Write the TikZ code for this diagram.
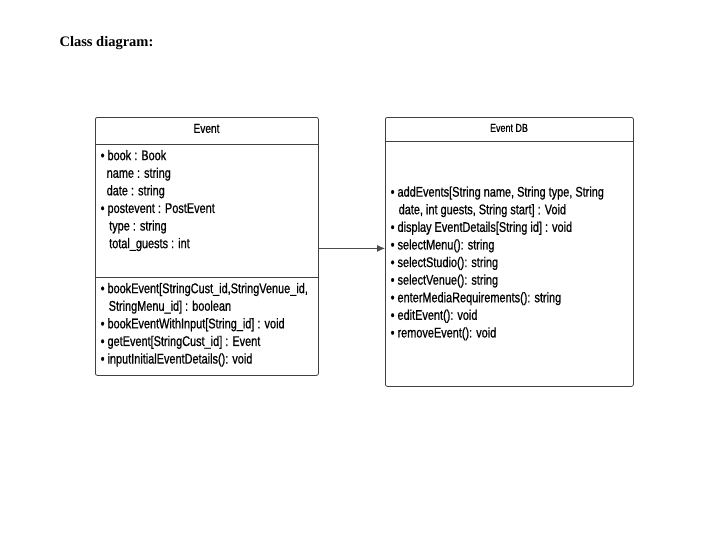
\documentclass[tikz,border=0pt]{standalone}
\usepackage{fontspec}
\setmainfont{Liberation Serif}
\newfontfamily\umlfont{Liberation Sans}[FakeStretch=0.78,FakeBold=0.7]
\usetikzlibrary{arrows.meta,positioning}

\begin{document}
\begin{tikzpicture}[
		x=1pt, y=-1pt,
		classbox/.style={draw=black!75, line width=0.8pt, rounded corners=2pt, anchor=north west, inner sep=0pt},
		classname/.style={font=\umlfont\fontsize{13}{14}\selectfont},
		member/.style={anchor=north west, align=left, inner sep=0pt, font=\umlfont\fontsize{14}{17.6}\selectfont},
		assoc/.style={-{Latex[length=8pt,width=7pt]}, draw=black!70, line width=0.8pt}
	]
		\useasboundingbox (0,0) rectangle (723,539);
		\node[anchor=west, font=\bfseries\fontsize{14.5}{17}\selectfont] (title) at (56,43) {Class diagram:};
		% Event class
		\node[classbox, minimum width=223pt, minimum height=258pt] (event) at (95,117) {};
		\node[classname] (eventname) at (206.5,128.5) {Event};
		\draw[draw=black!75, line width=0.8pt] ([yshift=-27pt]event.north west) -- ([yshift=-27pt]event.north east);
		\draw[draw=black!75, line width=0.8pt] ([yshift=-160pt]event.north west) -- ([yshift=-160pt]event.north east);
		\node[member] (eventattr) at (100.5,149.8) {\textbullet\ book : Book\\
			\hspace*{6pt}name : string\\
			\hspace*{6pt}date : string\\
			\textbullet\ postevent : PostEvent\\
			\hspace*{8.5pt}type : string\\
			\hspace*{8.5pt}total\_guests : int};
		\node[member] (eventops) at (100.5,282.8) {\textbullet\ bookEvent[StringCust\_id,StringVenue\_id,\\
			\hspace*{8pt}StringMenu\_id] : boolean\\
			\textbullet\ bookEventWithInput[String\_id] : void\\
			\textbullet\ getEvent[StringCust\_id] : Event\\
			\textbullet\ inputInitialEventDetails(): void};
		% Event DB class
		\node[classbox, minimum width=248pt, minimum height=269pt] (eventdb) at (385,117) {};
		\node[classname, font=\umlfont\fontsize{11.5}{12}\selectfont] (eventdbname) at (509,128) {Event DB};
		\draw[draw=black!75, line width=0.8pt] ([yshift=-24pt]eventdb.north west) -- ([yshift=-24pt]eventdb.north east);
		\node[member] (eventdbops) at (390.5,186.3) {\textbullet\ addEvents[String name, String type, String\\
			\hspace*{8pt}date, int guests, String start] : Void\\
			\textbullet\ display EventDetails[String id] : void\\
			\textbullet\ selectMenu(): string\\
			\textbullet\ selectStudio(): string\\
			\textbullet\ selectVenue(): string\\
			\textbullet\ enterMediaRequirements(): string\\
			\textbullet\ editEvent(): void\\
			\textbullet\ removeEvent(): void};
		\draw[assoc] ([yshift=-2pt]event.east) -- ([yshift=-2pt]event.east -| eventdb.west);
	\end{tikzpicture}
\end{document}
